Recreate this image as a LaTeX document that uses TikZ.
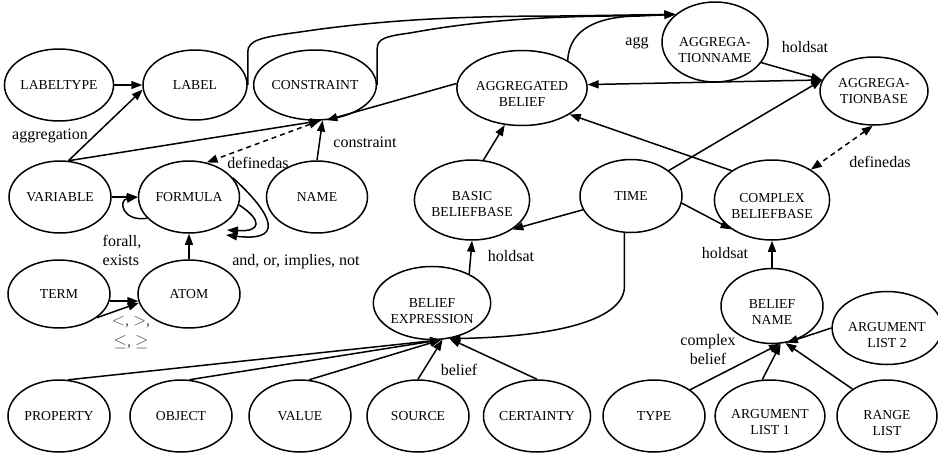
\documentclass[tikz,border=0pt]{standalone}
\usepackage{fontspec}
\setmainfont{Liberation Serif}
\usetikzlibrary{arrows.meta,shapes.geometric}
% two-line entity text, lowered inside its ellipse by the optional amount
\newcommand\twoline[3][7pt]{\raisebox{-#1}[\height][\depth]{\begin{tabular}{@{}c@{}}#2\\#3\end{tabular}}}
\begin{document}
\begin{tikzpicture}[x=1pt,y=-1pt,
  ent/.style={ellipse, draw, line width=1.5pt, inner sep=0pt,
    minimum width=102pt, minimum height=72pt,
    font=\fontsize{13.7}{16}\selectfont},
  tip/.tip={Triangle[length=11pt,width=8pt]},
  rel/.style={line width=1.5pt, -tip},
  both/.style={line width=1.5pt, tip-tip},
  defd/.style={both, dash pattern=on 5pt off 4pt},
  lbl/.style={font=\fontsize{16}{19}\selectfont, inner sep=0pt}]
\useasboundingbox (0,0) rectangle (938,453);

% entities
\node[ent] (labeltype) at (59,85) {LABELTYPE};
\node[ent, minimum width=104pt, minimum height=70pt] (label) at (195,85) {LABEL};
\node[ent, minimum width=104pt, minimum height=70pt] (constraint) at (315,85) {CONSTRAINT};
\node[ent, minimum width=119pt, minimum height=75pt] (aggbelief) at (522,88) {\twoline{AGGREGATED}{BELIEF}};
\node[ent, minimum width=106pt, minimum height=80pt] (aggname) at (715,42) {\twoline[9pt]{AGGREGA-}{TIONNAME}};
\node[ent, minimum width=108pt, minimum height=68pt] (aggbase) at (874,91) {\twoline[1pt]{AGGREGA-}{TIONBASE}};

\node[ent] (variable) at (60,197) {VARIABLE};
\node[ent, minimum width=101pt] (formula) at (189,197) {FORMULA};
\node[ent, minimum width=101pt] (name) at (317,197) {NAME};
\node[ent, minimum width=101pt, minimum height=80pt] (basicbb) at (472,200) {\twoline[5pt]{BASIC}{BELIEFBASE}};
\node[ent, minimum height=73pt] (time) at (631,196) {TIME};
\node[ent, minimum height=80pt] (complexbb) at (772,200) {\twoline{COMPLEX}{BELIEFBASE}};

\node[ent, minimum height=68pt] (term) at (59,294) {TERM};
\node[ent, minimum height=68pt] (atom) at (189,294) {ATOM};
\node[ent, minimum width=101pt, minimum height=73pt] (beliefexpr) at (432,303) {\twoline[9pt]{BELIEF}{EXPRESSION}};
\node[ent, minimum height=75pt] (beliefname) at (772,306) {\twoline{BELIEF}{NAME}};
\node[ent, minimum width=100pt, minimum height=73pt] (arglist2) at (887,328) {\twoline[8pt]{ARGUMENT}{LIST 2}};

\node[ent] (property) at (59,416) {PROPERTY};
\node[ent] (object) at (181,416) {OBJECT};
\node[ent] (value) at (300,416) {VALUE};
\node[ent] (source) at (418,416) {SOURCE};
\node[ent] (certainty) at (537,416) {CERTAINTY};
\node[ent] (type) at (654,416) {TYPE};
\node[ent] (arglist1) at (770,416) {\twoline{ARGUMENT}{LIST 1}};
\node[ent, minimum width=100pt] (rangelist) at (887,416) {\twoline[8pt]{RANGE}{LIST}};

% left cluster
\draw[rel] (labeltype) -- (label);
\draw[rel] (variable.77) -- (label.185);
\draw[rel] (variable.77) -- (constraint.-80);
\draw[rel] (name.north) -- (constraint.-78);
\draw[rel] (aggbelief.176) -- (constraint.-72);
\draw[defd] (constraint.-82) -- (formula.63);
\draw[rel] (variable) -- (formula);
\draw[rel] (formula.207) .. controls (122,222) and (118,200) .. (formula.west);
\draw[rel] (formula.-9) .. controls (262,220) and (262,232) .. ([shift={(38,33)}]formula.center);
\draw[rel] (formula.24) .. controls (263,205) and (293,243) .. ([shift={(37,38)}]formula.center);
\draw[rel] (atom) -- (formula);
\draw[rel] (term.-8) -- (atom.188);
\draw[rel] (term.-32) -- (atom.190);

% long connectors into the aggregation name
\draw[rel] (label.east) -- ++(0,-33) .. controls +(0,-12) and (262,37) .. (300,32)
  .. controls (380,20) and (460,16) .. (560,16) -- (aggname.145);
\draw[rel] (constraint.east) -- ++(0,-33) .. controls +(0,-11) and (378,37) .. (410,33)
  .. controls (470,22) and (530,17) .. (610,16) -- (aggname.145);
\draw[rel] (aggbelief.31) .. controls (569,28) and (600,16) .. (640,16) -- (aggname.145);

% aggregation part
\draw[rel] (aggname.-24) -- (aggbase.168);
\draw[both] (aggbelief.3) -- (aggbase.168);
\draw[rel] (time.34) -- (aggbase.168);
\draw[defd] (aggbase.-92) -- (complexbb.38);
\draw[rel] (complexbb.144) -- (aggbelief.-29);
\draw[rel] (basicbb.74) -- (aggbelief.-115);
\draw[rel] (time.196) -- (basicbb.-36);
\draw[rel] (time.-8) -- (complexbb.216);
\draw[rel] (beliefexpr.38) -- (basicbb.south);
\draw[rel] (beliefname) -- (complexbb);
\draw[rel] (time.-100) -- ++(0,53) .. controls +(0,37) and (545,337) .. (beliefexpr.-64);

% belief expression parts
\draw[rel] (property.76) -- (beliefexpr.-76);
\draw[rel] (object.77) -- (beliefexpr.-76);
\draw[rel] (value.76) -- (beliefexpr.-76);
\draw[rel] (source.north) -- (beliefexpr.-74);
\draw[rel] (certainty.north) -- (beliefexpr.-64);

% belief name parts
\draw[rel] (type.36) -- (beliefname.-78);
\draw[rel] (arglist1.102) -- (beliefname.-77);
\draw[rel] (rangelist.142) -- (beliefname.-70);
\draw[rel] (arglist2.west) -- (beliefname.-68);

% connector labels
\node[lbl] (l-aggregation) at (50,136) {aggregation};
\node[lbl] (l-definedas1) at (258,163) {definedas};
\node[lbl] (l-constraint) at (365,142) {constraint};
\node[lbl, align=left] (l-forall) at (122,250) {forall,\\exists};
\node[lbl] (l-andor) at (296,262) {and, or, implies, not};
\node[lbl, align=center, text=black!70] (l-cmp) at (131,333) {$<$, $>$,\\[2pt]$\le$, $\ge$};
\node[lbl] (l-holdsat1) at (511,256) {holdsat};
\node[lbl] (l-belief) at (459,370) {belief};
\node[lbl] (l-agg) at (637,43) {agg};
\node[lbl] (l-holdsat2) at (805,47) {holdsat};
\node[lbl] (l-definedas2) at (880,162) {definedas};
\node[lbl] (l-holdsat3) at (725,253) {holdsat};
\node[lbl, align=center] (l-complex) at (708,350) {complex\\belief};
\end{tikzpicture}
\end{document}
